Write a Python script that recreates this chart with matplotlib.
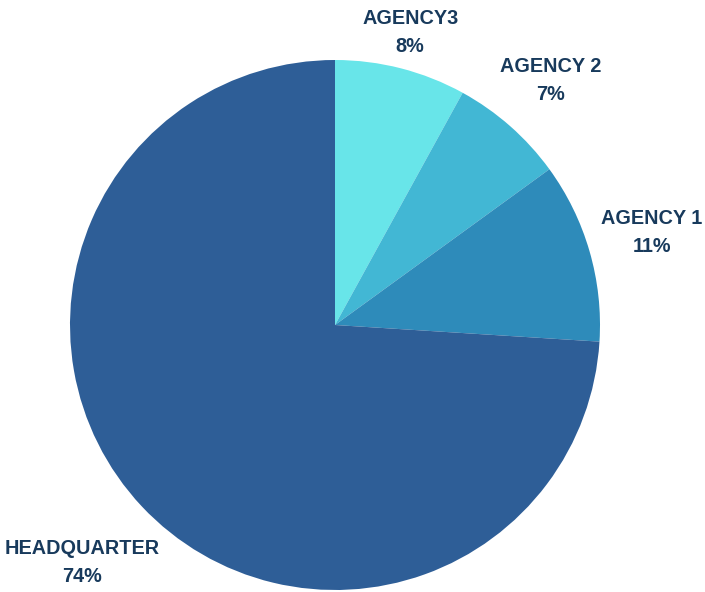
import numpy as np
import matplotlib.pyplot as plt

# slices, clockwise from 12 o'clock
labels = ["AGENCY3", "AGENCY 2", "AGENCY 1", "HEADQUARTER"]
shares = [8, 7, 11, 74]

colors = ["#68E5E9", "#42B7D4", "#2E8BBA", "#2E5E97"]
label_dist = [1.14, 1.23, 1.245, 1.31]  # radial distance of each label centre
text_color = "#183A5C"

fig = plt.figure(figsize=(7.05, 5.92), dpi=100)
ax = fig.add_axes([0, 0, 1, 1])

wedges, _ = ax.pie(shares, colors=colors, startangle=90, counterclock=False,
                   radius=1.0, wedgeprops=dict(linewidth=0))

for w, lab, s, d in zip(wedges, labels, shares, label_dist):
    mid = np.deg2rad((w.theta1 + w.theta2) / 2)
    ax.text(d * np.cos(mid), d * np.sin(mid), f"{lab}\n{s}%",
            ha="center", va="center", fontsize=14.3, fontweight="bold",
            family="Liberation Sans", color=text_color, linespacing=1.6)

ax.set_xlim(-335 / 265, 370 / 265)
ax.set_ylim(-267 / 265, 325 / 265)
ax.set_aspect("auto")
ax.axis("off")

fig.savefig("out.png", dpi=100)
